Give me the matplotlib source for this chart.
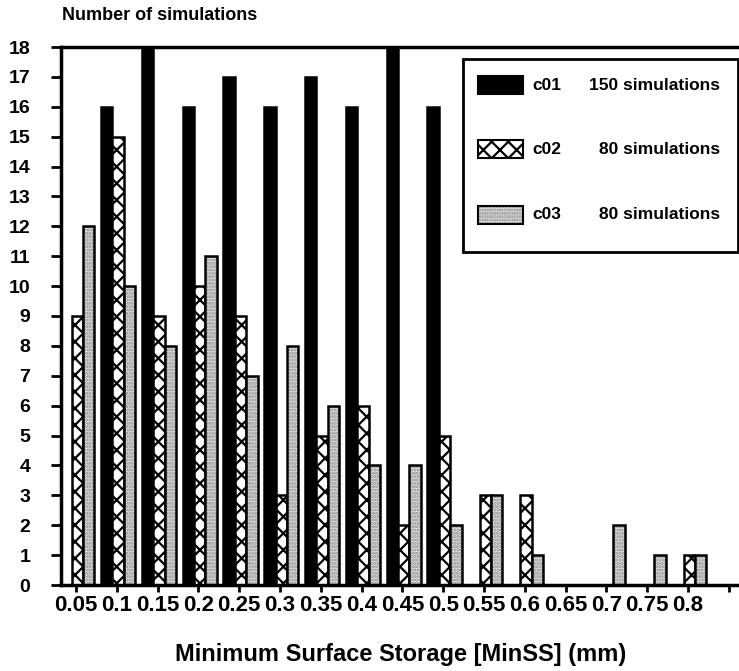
import matplotlib
matplotlib.use("Agg")
import matplotlib.pyplot as plt
from matplotlib.patches import Rectangle
import numpy as np

plt.rcParams['font.family'] = ['Liberation Sans', 'DejaVu Sans']
plt.rcParams['font.weight'] = 'bold'
plt.rcParams['hatch.linewidth'] = 1.6

categories = ["0.05", "0.1", "0.15", "0.2", "0.25", "0.3", "0.35", "0.4",
              "0.45", "0.5", "0.55", "0.6", "0.65", "0.7", "0.75", "0.8"]
c01 = [0, 16, 18, 16, 17, 16, 17, 16, 18, 16, 0, 0, 0, 0, 0, 0]
c02 = [9, 15, 9, 10, 9, 3, 5, 6, 2, 5, 3, 3, 0, 0, 0, 1]
c03 = [12, 10, 8, 11, 7, 8, 6, 4, 4, 2, 3, 1, 0, 2, 1, 1]
series_names = ["c01", "c02", "c03"]
series_notes = ["150 simulations", "80 simulations", "80 simulations"]
y_ticks = list(range(0, 19))

W, H = 739, 671
fig = plt.figure(figsize=(W / 100, H / 100), dpi=100)
ax = fig.add_axes([61 / W, 1 - 585 / H, (739 - 61) / W, (585 - 47) / H])

x = np.arange(len(categories))
w = 0.28
shift = 0.03
edge_lw = 1.8

# c01 black
ax.bar(x + shift - w, c01, width=w, color='black', edgecolor='black', lw=edge_lw, zorder=2)
# c02 crosshatch
ax.bar(x + shift, c02, width=w, color='white', edgecolor='black', hatch='xx', lw=edge_lw, zorder=2)
# c03 light stipple
ax.bar(x + shift + w, c03, width=w, color='#e6e6e6', edgecolor='#8a8a8a', hatch='.....', lw=0, zorder=2)
ax.bar(x + shift + w, c03, width=w, fill=False, edgecolor='black', lw=edge_lw, zorder=3)

ax.set_xlim(-0.37, 16.25)
ax.set_ylim(0, 18)

ax.set_xticks(np.arange(len(categories) + 1))
ax.set_xticklabels(categories + [""], fontsize=16, fontweight='bold')
ax.set_yticks(y_ticks)
ax.set_yticklabels([str(v) for v in y_ticks], fontsize=14, fontweight='bold')

ax.tick_params(axis='x', direction='out', length=5, width=2, pad=2)
ax.tick_params(axis='y', direction='out', length=7, width=2, pad=15)

for s in ['left', 'top', 'bottom']:
    ax.spines[s].set_linewidth(2.5)
ax.spines['right'].set_visible(False)

# Legend box drawn manually
ax.add_patch(Rectangle((0.593, 0.619), 0.405, 0.359, transform=ax.transAxes,
                       facecolor='white', edgecolor='black', lw=2, zorder=5, clip_on=False))
row_y = [0.929, 0.810, 0.688]
ph = 0.034
for i, (name, note, yy) in enumerate(zip(series_names, series_notes, row_y)):
    if i == 0:
        ax.add_patch(Rectangle((0.615, yy - ph / 2), 0.066, ph, transform=ax.transAxes,
                               facecolor='black', edgecolor='black', lw=1.5, zorder=6))
    elif i == 1:
        ax.add_patch(Rectangle((0.615, yy - ph / 2), 0.066, ph, transform=ax.transAxes,
                               facecolor='white', edgecolor='black', hatch='xx', lw=1.5, zorder=6))
    else:
        ax.add_patch(Rectangle((0.615, yy - ph / 2), 0.066, ph, transform=ax.transAxes,
                               facecolor='#e6e6e6', edgecolor='#8a8a8a', hatch='.....', lw=0, zorder=6))
        ax.add_patch(Rectangle((0.615, yy - ph / 2), 0.066, ph, transform=ax.transAxes,
                               fill=False, edgecolor='black', lw=1.5, zorder=7))
    ax.text(0.695, yy, name, transform=ax.transAxes, ha='left', va='center',
            fontsize=12.5, fontweight='bold', zorder=8)
    ax.text(0.972, yy, note, transform=ax.transAxes, ha='right', va='center',
            fontsize=12.5, fontweight='bold', zorder=8)

fig.text(62 / W, 1 - 15 / H, "Number of simulations", ha='left', va='center',
         fontsize=13, fontweight='bold')
fig.text(401 / W, 1 - 655 / H, "Minimum Surface Storage [MinSS] (mm)", ha='center', va='center',
         fontsize=17, fontweight='bold')

fig.savefig("out.png", dpi=100)
